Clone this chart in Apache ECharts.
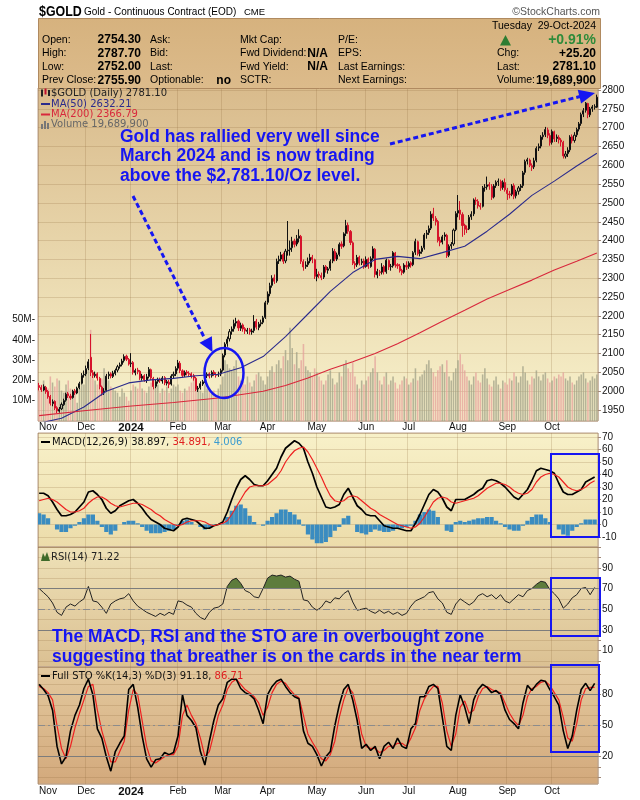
<!DOCTYPE html>
<html><head><meta charset="utf-8">
<script src="https://cdn.jsdelivr.net/npm/echarts@6/dist/echarts.min.js"></script>
<style>html,body{margin:0;padding:0;background:#fff}#c{width:640px;height:800px}</style>
</head><body><div id="c"></div>
<script>
// ---------- DATA ----------
const monthStarts = [0,21,41,62,82,102,124,146,165,187,209,229];
const monthLabels = ['Nov','Dec','2024','Feb','Mar','Apr','May','Jun','Jul','Aug','Sep','Oct'];
// daily candles [open, close, low, high]
const candles = [
[2015,2010,2002,2022],[2010,2004,1998,2016],[2003,2012,2000,2018],[2010,1998,1993,2014],[1999,1985,1980,2003],
[1986,1968,1962,1990],[1967,1972,1960,1978],[1973,1955,1950,1976],[1956,1948,1942,1960],[1947,1952,1943,1958],
[1953,1965,1950,1970],[1964,1975,1961,1980],[1976,1992,1972,1996],[1993,1988,1982,1998],[1987,1982,1977,1993],
[1983,2000,1980,2004],[2001,1996,1990,2006],[1995,2008,1992,2012],[2009,2020,2005,2025],[2021,2042,2018,2048],
[2043,2045,2036,2055],
[2046,2060,2040,2068],[2061,2078,2056,2085],[2090,2050,2040,2152],[2049,2042,2035,2056],[2041,2045,2036,2052],
[2046,2035,2028,2050],[2034,2012,2005,2038],[2011,1995,1988,2015],[1996,2000,1990,2008],[2002,2040,1998,2046],
[2041,2045,2032,2052],[2046,2040,2034,2050],[2039,2048,2035,2054],[2047,2055,2042,2060],[2056,2065,2050,2070],
[2066,2070,2060,2076],[2071,2080,2066,2086],[2081,2092,2076,2098],[2093,2085,2080,2097],[2084,2072,2068,2088],
[2073,2075,2064,2101],[2076,2050,2044,2080],[2049,2055,2042,2060],[2056,2052,2045,2062],[2053,2035,2030,2056],
[2034,2040,2028,2046],[2041,2030,2025,2045],[2029,2038,2022,2046],[2039,2058,2034,2064],[2057,2035,2030,2060],
[2034,2012,2005,2038],[2013,2025,2008,2030],[2026,2030,2020,2036],[2031,2028,2022,2036],[2027,2035,2020,2040],
[2036,2022,2016,2040],[2021,2025,2015,2030],[2024,2018,2008,2030],[2019,2040,2015,2045],[2041,2045,2035,2052],
[2046,2060,2040,2066],
[2061,2075,2055,2083],[2074,2055,2048,2080],[2054,2042,2036,2058],[2043,2050,2038,2055],[2051,2048,2042,2056],
[2047,2045,2040,2053],[2046,2040,2034,2050],[2041,2035,2028,2046],[2034,2005,2000,2038],[2006,2008,1998,2014],
[2009,2020,2004,2026],[2019,2025,2014,2030],[2026,2040,2022,2045],[2041,2045,2035,2050],[2046,2040,2034,2050],
[2041,2050,2036,2055],[2051,2045,2040,2056],[2044,2042,2036,2050],[2043,2045,2038,2052],[2046,2055,2040,2060],
[2056,2095,2052,2100],[2096,2125,2090,2130],[2126,2138,2118,2145],[2139,2158,2132,2165],[2159,2165,2150,2172],
[2166,2180,2158,2190],[2181,2185,2172,2195],[2186,2168,2160,2190],[2167,2175,2160,2182],[2176,2165,2158,2180],
[2166,2160,2152,2170],[2159,2162,2152,2168],[2163,2158,2150,2168],[2157,2160,2150,2166],[2161,2185,2155,2202],
[2186,2170,2164,2192],[2169,2178,2162,2184],[2179,2182,2172,2190],[2183,2195,2178,2200],[2196,2235,2192,2240],
[2236,2258,2230,2265],[2259,2280,2252,2288],[2281,2300,2275,2308],[2301,2292,2285,2310],[2293,2345,2288,2352],
[2346,2350,2338,2360],[2351,2362,2345,2370],[2363,2345,2338,2368],[2346,2372,2340,2378],[2373,2375,2360,2452],
[2376,2380,2360,2400],[2381,2398,2370,2410],[2399,2390,2382,2405],[2391,2405,2385,2415],[2406,2412,2395,2430],
[2411,2345,2338,2415],[2344,2330,2320,2350],[2331,2335,2325,2345],[2336,2345,2330,2355],[2346,2355,2340,2365],
[2356,2350,2340,2362],[2349,2305,2298,2352],
[2304,2310,2292,2325],[2311,2308,2300,2318],[2307,2302,2295,2315],[2303,2330,2298,2335],[2331,2322,2315,2335],
[2321,2325,2312,2330],[2326,2345,2320,2350],[2346,2372,2340,2380],[2371,2352,2345,2378],[2351,2362,2346,2368],
[2363,2390,2358,2395],[2391,2385,2378,2398],[2386,2418,2382,2422],[2419,2440,2412,2455],[2441,2425,2418,2448],
[2424,2395,2388,2428],[2394,2340,2335,2398],[2339,2335,2325,2345],[2336,2355,2330,2362],[2356,2340,2334,2360],
[2341,2345,2335,2352],[2346,2330,2325,2352],
[2331,2350,2328,2358],[2351,2332,2325,2355],[2331,2352,2328,2358],[2353,2378,2348,2385],[2377,2310,2302,2380],
[2309,2318,2300,2325],[2317,2315,2306,2322],[2316,2330,2310,2340],[2331,2318,2310,2335],[2317,2348,2312,2352],
[2347,2330,2322,2350],[2331,2332,2320,2338],[2333,2368,2328,2372],[2367,2335,2328,2370],[2336,2333,2325,2340],
[2332,2320,2315,2338],[2321,2315,2308,2325],[2316,2335,2312,2340],[2334,2330,2322,2345],
[2331,2340,2325,2345],[2341,2335,2328,2345],[2336,2368,2332,2372],[2369,2398,2362,2405],[2397,2365,2360,2400],
[2366,2370,2358,2376],[2371,2380,2365,2386],[2381,2415,2376,2420],[2416,2420,2405,2428],[2421,2432,2415,2440],
[2433,2470,2428,2478],[2471,2460,2452,2487],[2459,2450,2440,2465],[2451,2400,2395,2455],[2401,2395,2385,2410],
[2396,2410,2390,2415],[2411,2415,2400,2422],[2414,2360,2354,2418],[2361,2385,2356,2390],[2386,2390,2378,2396],
[2391,2428,2386,2432],[2429,2472,2425,2478],
[2473,2480,2462,2521],[2481,2470,2455,2505],[2469,2440,2410,2475],[2441,2430,2415,2445],[2431,2430,2420,2440],
[2431,2462,2428,2468],[2463,2470,2455,2478],[2471,2508,2465,2512],[2507,2505,2495,2515],[2504,2492,2485,2510],
[2493,2490,2482,2500],[2491,2540,2488,2545],[2541,2542,2530,2550],[2543,2548,2535,2570],[2549,2545,2535,2555],
[2544,2515,2508,2550],[2516,2545,2512,2550],[2546,2555,2540,2560],[2556,2558,2545,2565],[2557,2540,2532,2562],
[2541,2555,2535,2560],[2554,2535,2530,2565],
[2534,2525,2508,2540],[2524,2522,2512,2532],[2523,2545,2518,2550],[2546,2518,2510,2552],[2519,2530,2512,2535],
[2531,2540,2522,2545],[2541,2545,2532,2550],[2546,2580,2540,2585],[2581,2610,2575,2615],[2611,2615,2602,2620],
[2614,2600,2595,2618],[2599,2595,2585,2605],[2596,2612,2590,2620],[2613,2645,2608,2650],[2646,2650,2638,2658],
[2651,2675,2645,2680],[2676,2680,2668,2688],[2681,2695,2675,2702],[2694,2680,2672,2700],[2679,2660,2652,2685],
[2661,2690,2655,2695],[2689,2670,2662,2692],[2671,2675,2662,2682],[2674,2668,2658,2680],[2667,2662,2650,2672],
[2661,2625,2618,2665],[2624,2630,2618,2638],[2631,2640,2622,2648],[2641,2675,2635,2680],[2676,2665,2658,2682],
[2666,2680,2660,2688],[2681,2695,2675,2700],[2696,2710,2690,2715],[2711,2735,2705,2740],[2736,2745,2728,2752],
[2746,2765,2740,2768],[2764,2735,2725,2766],[2734,2750,2728,2755],[2751,2755,2742,2760],[2754,2756,2748,2762],
[2754.3,2781.1,2752,2787.7]
];
// daily volume, millions
const volume = [
15,18,20,14,16,22,19,17,21,20,15,14,18,20,16,12,14,9,16,22,18,
24,28,45,22,20,18,19,21,26,19,20,17,16,15,14,12,16,14,12,10,
15,18,17,16,20,16,15,14,17,19,16,20,18,14,16,15,17,14,16,18,17,
18,15,14,16,15,17,19,22,17,16,15,14,18,16,15,14,15,13,16,18,
22,30,28,26,25,27,30,22,20,21,18,22,19,17,20,23,24,22,20,18,
22,25,27,24,28,30,26,32,35,30,46,36,28,34,26,30,38,27,25,24,22,26,
24,22,20,18,20,23,25,21,18,19,24,22,28,30,26,24,29,22,18,16,20,18,
20,22,24,26,32,24,20,18,22,24,18,20,22,19,16,18,20,22,21,
18,19,21,26,20,22,23,25,28,30,26,24,22,25,27,28,24,30,22,20,24,26,
30,33,28,25,22,20,18,22,24,20,19,23,26,21,18,17,20,22,18,16,20,19,
18,21,20,24,22,19,22,27,24,20,18,22,21,25,22,20,23,24,21,19,
20,22,21,23,22,24,21,20,22,19,18,20,22,23,24,21,19,20,22,21,23
];
// moving averages read at selected sessions
const ma50Idx = [0,10,20,30,40,50,60,70,80,90,100,110,120,130,140,150,160,170,180,190,200,210,220,230,240,249];
const ma50Val = [1915,1928,1958,2000,2022,2030,2034,2041,2045,2062,2092,2145,2205,2265,2315,2350,2358,2352,2368,2385,2425,2470,2520,2558,2598,2632];
const ma200Idx = [0,20,40,60,80,100,110,120,130,140,150,160,170,180,190,200,210,220,230,240,249];
const ma200Val = [1935,1948,1960,1970,1982,2000,2015,2035,2058,2078,2100,2126,2155,2186,2215,2245,2270,2295,2322,2345,2367];
// indicators read every second session
const macd = [25,25,23,18,12,7,7,8,10,14, 18,26,27,24,20,13,9,11,15,17, 19,20,17,13,8,4,2,0,-3,-4, -5,-2,4,5,4,3,0,-3,-3,-1,
 0,2,10,20,29,36,39,36,32,31, 31,35,40,45,54,61,64,67,65,61, 50,41,30,22,14,13,14,16,24,29, 22,15,12,8,7,7,3,-1,-2,-3,
 -3,-4,-5,-5,1,8,16,24,28,26, 21,14,11,20,20,20,22,24,27,29, 35,36,35,33,30,26,22,20,24,28, 35,43,45,44,43,41,33,26,24,24,
 26,28,34,36,38];
const signal = [19,20,21,20,18,15,12,10,10,11, 13,17,20,22,22,20,17,15,14,15, 16,17,17,16,14,12,9,7,4,2, 0,-1,0,2,3,3,3,2,0,-1,
 0,1,3,8,14,20,26,30,31,31, 31,32,35,38,43,50,55,59,61,62, 58,52,45,38,30,23,19,18,19,22, 23,22,19,16,13,11,8,6,4,2,
 0,-1,-2,-3,-2,1,6,12,18,21, 22,21,18,17,18,19,20,21,23,26, 29,31,33,33,32,30,27,25,24,25, 28,34,38,40,41,40,38,34,30,28,
 27,28,30,33,35];
const hist = [9,8,5,0,-4,-6,-6,-3,-1,2, 5,8,8,3,-2,-6,-8,-5,0,2, 3,3,1,-2,-5,-7,-7,-7,-6,-5, -4,-1,3,4,2,0,-2,-4,-3,-1,
 0,1,6,11,15,16,13,7,2,0, -1,3,6,9,12,12,10,8,4,-1, -8,-12,-15,-15,-14,-10,-5,-2,5,7, 0,-6,-7,-8,-6,-4,-5,-6,-6,-5,
 -3,-3,-2,-1,3,8,10,12,11,6, 0,-5,-6,2,3,2,3,4,5,5, 6,6,3,1,-2,-4,-5,-5,-1,3, 6,8,8,5,2,0,-4,-8,-9,-5,
 -2,1,4,4,4];
const rsi = [70,66,62,56,47,44,52,55,53,57, 60,72,58,57,52,46,55,58,60,61, 65,58,53,50,47,45,43,46,44,47, 45,58,57,54,52,46,42,40,47,51,
 52,55,72,78,80,75,68,66,62,61, 70,80,83,82,83,81,82,79,77,59, 58,52,49,52,58,56,61,60,65,68, 57,49,50,51,48,46,49,46,48,45,
 47,44,46,53,58,60,62,66,67,60, 56,47,45,55,60,57,54,57,63,65, 62,64,60,64,58,56,60,64,62,68, 70,74,77,76,69,65,60,51,55,61,
 64,70,71,64,71];
const stoK = [90,85,79,65,30,13,20,45,60,70, 86,95,80,47,38,20,6,25,33,40, 85,90,68,40,18,10,17,18,24,22, 24,40,80,60,55,48,25,12,35,55,
 70,76,92,95,95,86,82,80,76,65, 52,80,88,93,95,88,82,78,76,45, 33,30,22,11,20,25,50,70,85,90, 75,55,28,32,26,30,18,30,34,28,
 38,30,28,47,52,78,78,88,90,86, 58,30,26,60,80,68,52,75,85,90, 87,82,84,80,65,56,52,47,72,89, 84,90,94,93,85,78,70,45,28,40,
 65,85,91,84,91];
const stoD = [88,86,82,75,50,28,18,30,48,62, 75,88,90,65,45,30,15,15,25,35, 65,85,80,55,30,16,14,17,20,22, 22,30,60,70,60,52,38,20,25,42,
 60,70,85,92,95,90,85,82,78,72, 60,68,82,90,93,91,85,80,77,60, 42,34,27,18,16,22,35,58,75,87, 82,65,42,30,28,28,24,26,30,30,
 33,33,30,38,48,65,76,83,88,88, 72,45,30,42,68,74,62,65,78,86, 88,85,83,82,72,62,55,50,60,78, 86,88,92,93,89,82,75,58,38,35,
 52,75,86,87,87];

// ---------- LAYOUT HELPERS ----------
const N = candles.length;
const cats = candles.map((_, i) => String(i));
function atIdx(idx, vals){ const r = new Array(N).fill(null); idx.forEach((p,k)=>{ r[p] = vals[k]; }); return r; }
function everyOther(vals){ const r = new Array(N).fill(null); vals.forEach((v,k)=>{ r[2*k] = v; }); return r; }
const F = '"Liberation Sans", Arial, sans-serif';
const V = '"DejaVu Sans", Verdana, sans-serif';
const GRID_LINE = 'rgba(140,105,60,0.22)';
const lg = (a,b) => ({type:'linear',x:0,y:0,x2:0,y2:1,colorStops:[{offset:0,color:a},{offset:1,color:b}]});
const isMonth = i => monthStarts.indexOf(i) >= 0;

function xa(gi, showLabels, margin){
  return {type:'category', gridIndex:gi, data:cats, boundaryGap:true,
    axisLine:{show:false}, axisTick:{show:false},
    splitLine:{show:true, interval:(i)=>isMonth(i), lineStyle:{color:GRID_LINE, width:1}},
    axisLabel:{show:showLabels, margin:margin, interval:(i)=>isMonth(i), alignMinLabel:'left',
      formatter:(v,i)=>{ const k = monthStarts.indexOf(Number(v)); if(k<0) return ''; return k===2 ? '{b|'+monthLabels[k]+'}' : monthLabels[k]; },
      fontFamily:F, fontSize:10, color:'#111',
      rich:{b:{fontWeight:'bold', fontSize:11.5, fontFamily:F, color:'#111'}}}
  };
}
function ya(gi, min, max, split, keep){
  return {type:'value', gridIndex:gi, position:'right', min:min, max:max, splitNumber:split,
    axisLine:{show:false},
    axisTick:{show:true, length:3, lineStyle:{color:'#a08878'}},
    splitLine:{show:true, lineStyle:{color:GRID_LINE, width:1}},
    axisLabel:{margin:4, fontFamily:F, fontSize:10, color:'#111', showMinLabel:false, showMaxLabel:false,
      formatter: v => keep(v) ? String(v) : ''}
  };
}

const chart = echarts.init(document.getElementById('c'), null, {width:640, height:800});

// ---------- GRAPHIC (header, legends, annotations) ----------
function T(x, y, text, o){
  o = o || {};
  const el = {type:'text', x:x, y:y, z:200, silent:true,
    style:Object.assign({text:text, fill:o.c||'#000',
      font:(o.w||'normal')+' '+(o.s||10.5)+'px '+(o.f||F),
      align:o.a||'left', verticalAlign:'middle'}, o.rich ? {rich:o.rich} : {})};
  if (o.sx) el.scaleX = o.sx;
  return el;
}
const BLUE = '#1616f2';
const rows = [40, 53.5, 67, 80.5];
const g = [];
g.push({type:'rect', z:150, silent:true, shape:{x:38.5,y:18.5,width:562,height:70},
  style:{fill:lg('#d6b27e','#dcbb8b'), stroke:'#b08a60', lineWidth:1}});
g.push(T(39,12,'$GOLD',{w:'bold',s:15.5,sx:0.8}));
g.push(T(84,12,'Gold - Continuous Contract (EOD)',{s:10}));
g.push(T(244,12.5,'CME',{s:9.5}));
g.push(T(600,12,'\u00A9StockCharts.com',{s:10.5,a:'right',c:'#555'}));
g.push(T(492,26,'Tuesday',{s:10.5}));
g.push(T(596,26,'29-Oct-2024',{s:10.5,a:'right'}));
[['Open:','2754.30'],['High:','2787.70'],['Low:','2752.00'],['Prev Close:','2755.90']].forEach((r,k)=>{
  g.push(T(42,rows[k],r[0])); g.push(T(141,rows[k],r[1],{w:'bold',s:12,a:'right'}));
});
['Ask:','Bid:','Last:','Optionable:'].forEach((t,k)=>g.push(T(150,rows[k],t)));
g.push(T(231,rows[3],'no',{w:'bold',s:12,a:'right'}));
['Mkt Cap:','Fwd Dividend:','Fwd Yield:','SCTR:'].forEach((t,k)=>g.push(T(240,rows[k],t)));
g.push(T(328,rows[1],'N/A',{w:'bold',s:12,a:'right'}));
g.push(T(328,rows[2],'N/A',{w:'bold',s:12,a:'right'}));
['P/E:','EPS:','Last Earnings:','Next Earnings:'].forEach((t,k)=>g.push(T(338,rows[k],t)));
g.push({type:'polygon', z:200, silent:true, shape:{points:[[500,45.5],[511,45.5],[505.5,35]]}, style:{fill:'#2e7d32'}});
g.push(T(596,rows[0],'+0.91%',{w:'bold',s:14,a:'right',c:'#2e8b3a'}));
[['Chg:','+25.20'],['Last:','2781.10'],['Volume:','19,689,900']].forEach((r,k)=>{
  g.push(T(497,rows[k+1],r[0])); g.push(T(596,rows[k+1],r[1],{w:'bold',s:12,a:'right'}));
});
// price panel legend
g.push({type:'rect', z:200, silent:true, shape:{x:41,y:89.5,width:2,height:7}, style:{fill:'#222'}});
g.push({type:'rect', z:200, silent:true, shape:{x:44.5,y:88.5,width:2,height:6}, style:{fill:'#c01030'}});
g.push({type:'rect', z:200, silent:true, shape:{x:48,y:90,width:2,height:6}, style:{fill:'#222'}});
g.push(T(51,93,'$GOLD (Daily) 2781.10',{s:10,f:V,c:'#222'}));
g.push({type:'rect', z:200, silent:true, shape:{x:41,y:103,width:9,height:2}, style:{fill:'#2b2b8c'}});
g.push(T(51,104,'MA(50) 2632.21',{s:10,f:V,c:'#2b2b8c'}));
g.push({type:'rect', z:200, silent:true, shape:{x:41,y:113.5,width:9,height:2}, style:{fill:'#d8283c'}});
g.push(T(51,114.5,'MA(200) 2366.79',{s:10,f:V,c:'#d8283c'}));
[[41,5],[44,8],[47,6]].forEach(b=>g.push({type:'rect', z:200, silent:true, shape:{x:b[0],y:129-b[1],width:2,height:b[1]}, style:{fill:'#777'}}));
g.push(T(51,124.5,'Volume 19,689,900',{s:10,f:V,c:'#666'}));
// MACD legend
g.push({type:'rect', z:200, silent:true, shape:{x:41,y:441,width:9,height:2}, style:{fill:'#000'}});
g.push(T(52,442,'{k|MACD(12,26,9) 38.897, }{r|34.891, }{b|4.006}',{s:10,f:V,
  rich:{k:{fill:'#111',font:'10px '+V},r:{fill:'#e02020',font:'10px '+V},b:{fill:'#3a9bd0',font:'10px '+V}}}));
// RSI legend
g.push({type:'polygon', z:200, silent:true, shape:{points:[[41,561],[43,553],[45,557],[47,552],[50,561]]}, style:{fill:'#3f6a2a'}});
g.push(T(51,557,'RSI(14) 71.22',{s:10,f:V,c:'#222'}));
// STO legend
g.push({type:'rect', z:200, silent:true, shape:{x:41,y:675,width:9,height:2}, style:{fill:'#000'}});
g.push(T(52,676,'{k|Full STO %K(14,3) %D(3) 91.18, }{r|86.71}',{s:10,f:V,
  rich:{k:{fill:'#111',font:'10px '+V},r:{fill:'#e02020',font:'10px '+V}}}));
// annotations
g.push({type:'text', x:120, y:127, z:210, silent:true, style:{text:'Gold has rallied very well since\nMarch 2024 and is now trading\nabove the $2,781.10/Oz level.',
  fill:BLUE, font:'bold 17.5px '+F, lineHeight:19.5, align:'left', verticalAlign:'top'}});
g.push({type:'text', x:52, y:627.5, z:210, silent:true, style:{text:'The MACD, RSI and the STO are in overbought zone\nsuggesting that breather is on the cards in the near term',
  fill:BLUE, font:'bold 17.5px '+F, lineHeight:20, align:'left', verticalAlign:'top'}});
g.push({type:'polyline', z:210, silent:true, shape:{points:[[133,196],[205,339]]}, style:{stroke:BLUE, lineWidth:3, lineDash:[5,3], fill:null}});
g.push({type:'polygon', z:210, silent:true, shape:{points:[[212.5,352],[199.5,342.7],[211.9,336.3]]}, style:{fill:BLUE}});
g.push({type:'polyline', z:210, silent:true, shape:{points:[[390,144],[580,96.5]]}, style:{stroke:BLUE, lineWidth:3, lineDash:[5,3], fill:null}});
g.push({type:'polygon', z:210, silent:true, shape:{points:[[595,93],[581.1,103.4],[577.7,89.8]]}, style:{fill:BLUE}});
g.push({type:'ellipse', z:210, silent:true, shape:{cx:224,cy:373,rx:19.5,ry:25}, style:{fill:null, stroke:BLUE, lineWidth:2.5}});
[[551,454,48,83],[551,578,49,58],[551,665,48,87]].forEach(r=>g.push({type:'rect', z:210, silent:true,
  shape:{x:r[0],y:r[1],width:r[2],height:r[3]}, style:{fill:null, stroke:BLUE, lineWidth:2}}));

// ---------- OPTION ----------
const grids = [
  {left:38, right:42, top:88, height:333, backgroundColor:lg('#d9bb8c','#f8f2cc')},
  {left:38, right:42, top:433, height:114, backgroundColor:lg('#f8f1c9','#ecdcaa')},
  {left:38, right:42, top:547, height:120, backgroundColor:lg('#eee1b7','#dbc092')},
  {left:38, right:42, top:667, height:117, backgroundColor:lg('#e3c99e','#d3a97c')}
].map(gr => Object.assign({show:true, borderColor:'#bba08a', borderWidth:1}, gr));
// overlay grid covering the RSI panel above the 70 level (for the overbought fill)
grids.push({left:38, right:42, top:547, height:41.5, show:false});

const hline = (v, dashed) => ({yAxis:v, lineStyle:{color: dashed ? '#8c8c8c' : '#7c7c7c', width:1, type: dashed ? [7,3,2,3] : 'solid'}});

const fillX = {type:'category', gridIndex:4, data:cats, boundaryGap:true, show:false};
const fillY = {type:'value', gridIndex:4, min:70, max:110.1, show:false};

const option = {
  animation:false,
  backgroundColor:'#ffffff',
  grid:grids,
  xAxis:[xa(0,true,1), xa(1,false,2), xa(2,false,2), xa(3,true,2), fillX],
  yAxis:[
    ya(0,1920.8,2805.3,18,v=>v>=1950&&v<=2800),
    {type:'value', gridIndex:0, position:'left', min:0, max:164.4, splitNumber:16,
      axisLine:{show:false}, axisTick:{show:false}, splitLine:{show:false},
      axisLabel:{margin:3, fontFamily:F, fontSize:10, color:'#111', showMinLabel:false, showMaxLabel:false,
        formatter:v=>(v>=10&&v<=50)? v+'M-' : ''}},
    ya(1,-18,73.2,9,v=>v>=-10&&v<=70),
    ya(2,-5.85,110.1,12,v=>[10,30,50,70,90].indexOf(v)>=0),
    ya(3,-6.4,106.8,11,v=>[20,50,80].indexOf(v)>=0),
    fillY
  ],
  series:[
    {type:'bar', name:'Volume', xAxisIndex:0, yAxisIndex:1, data:volume, barWidth:'70%',
      itemStyle:{color:p => candles[p.dataIndex][1] >= candles[p.dataIndex][0] ? 'rgba(160,160,135,0.75)' : 'rgba(228,160,155,0.75)'}},
    {type:'candlestick', name:'$GOLD', xAxisIndex:0, yAxisIndex:0, data:candles, barWidth:'72%',
      itemStyle:{color:'rgba(255,255,255,0)', color0:'#d6132c', borderColor:'#111', borderColor0:'#d6132c', borderWidth:1}},
    {type:'line', name:'MA50', xAxisIndex:0, yAxisIndex:0, data:atIdx(ma50Idx,ma50Val), connectNulls:true, showSymbol:false, symbol:'none',
      lineStyle:{color:'#2b2b8c', width:1.1}},
    {type:'line', name:'MA200', xAxisIndex:0, yAxisIndex:0, data:atIdx(ma200Idx,ma200Val), connectNulls:true, showSymbol:false, symbol:'none',
      lineStyle:{color:'#d8283c', width:1.1}},
    {type:'bar', name:'Hist', xAxisIndex:1, yAxisIndex:2, data:everyOther(hist), barWidth:4.2,
      itemStyle:{color:'#3a8cc0'}},
    {type:'line', name:'MACD', xAxisIndex:1, yAxisIndex:2, data:everyOther(macd), connectNulls:true, symbol:'none',
      lineStyle:{color:'#000', width:1.7}},
    {type:'line', name:'Signal', xAxisIndex:1, yAxisIndex:2, data:everyOther(signal), connectNulls:true, symbol:'none',
      lineStyle:{color:'#ee2020', width:1.2}},
    {type:'line', name:'RSIfill', xAxisIndex:4, yAxisIndex:5, data:everyOther(rsi), connectNulls:true, symbol:'none', clip:true,
      lineStyle:{width:0}, areaStyle:{color:'#5e7c3c', opacity:1, origin:'start'}, z:1},
    {type:'line', name:'RSI', xAxisIndex:2, yAxisIndex:3, data:everyOther(rsi), connectNulls:true, symbol:'none',
      lineStyle:{color:'#222', width:1}, z:3,
      markLine:{silent:true, symbol:'none', label:{show:false}, data:[hline(70),hline(30),hline(50,true)]}},
    {type:'line', name:'%D', xAxisIndex:3, yAxisIndex:4, data:everyOther(stoD), connectNulls:true, symbol:'none',
      lineStyle:{color:'#ee2020', width:1.2},
      markLine:{silent:true, symbol:'none', label:{show:false}, data:[hline(80),hline(20),hline(50,true)]}},
    {type:'line', name:'%K', xAxisIndex:3, yAxisIndex:4, data:everyOther(stoK), connectNulls:true, symbol:'none',
      lineStyle:{color:'#000', width:1.6}}
  ],
  graphic:{elements:g}
};
chart.setOption(option);
</script>
</body></html>
